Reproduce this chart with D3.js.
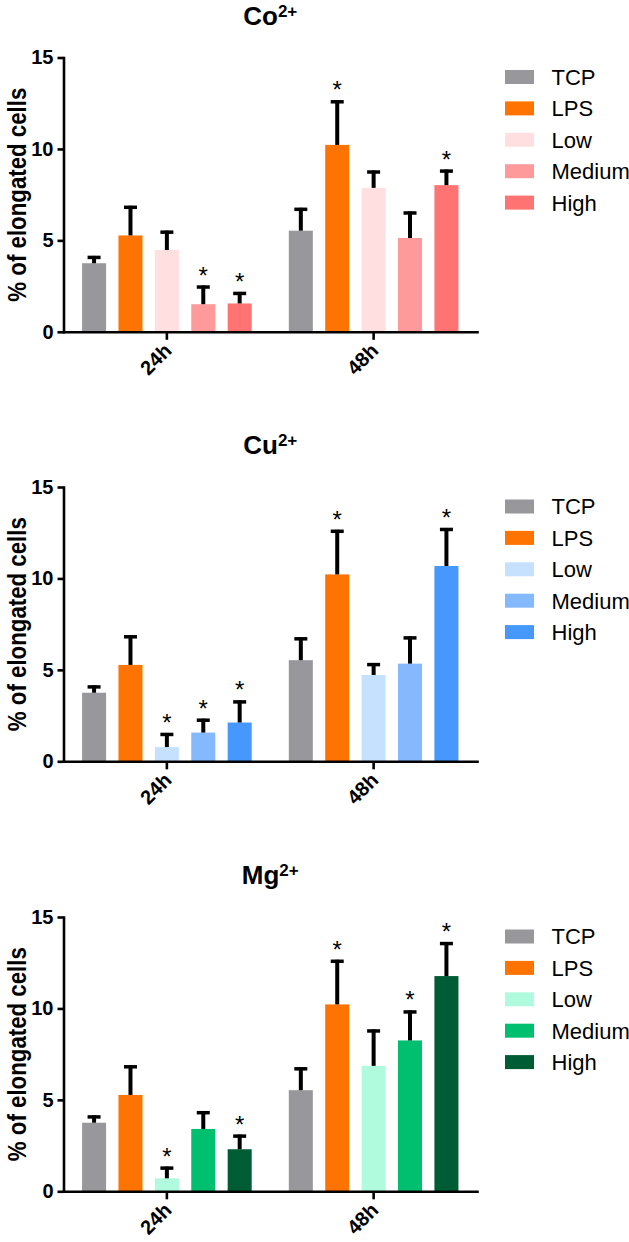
<!DOCTYPE html>
<html>
<head>
<meta charset="utf-8">
<script src="https://cdn.jsdelivr.net/npm/d3@7"></script>
<style>
  body { margin: 0; background: #fff; }
  text { font-family: "Liberation Sans", Arial, Helvetica, sans-serif; }
</style>
</head>
<body>
<script>
// data
var categories = ["24h", "48h"];
var series = ["TCP", "LPS", "Low", "Medium", "High"];
var yTicks = [0, 5, 10, 15];
var ions = ["Co", "Cu", "Mg"];

var coMean = [[3.75, 5.27, 4.47, 1.51, 1.55], [5.53, 10.22, 7.87, 5.13, 8.02]];
var coErr  = [[0.40, 1.62, 1.06, 1.02, 0.63], [1.25, 2.44, 0.95, 1.45, 0.85]];
var coStar = [[0, 0, 0, 1, 1], [0, 1, 0, 0, 1]];

var cuMean = [[3.75, 5.27, 0.78, 1.57, 2.12], [5.53, 10.22, 4.72, 5.34, 10.68]];
var cuErr  = [[0.40, 1.62, 0.77, 0.76, 1.21], [1.25, 2.44, 0.65, 1.49, 2.08]];
var cuStar = [[0, 0, 1, 1, 1], [0, 1, 0, 0, 1]];

var mgMean = [[3.75, 5.27, 0.71, 3.41, 2.30], [5.53, 10.22, 6.86, 8.25, 11.77]];
var mgErr  = [[0.40, 1.62, 0.64, 0.97, 0.80], [1.25, 2.44, 1.99, 1.64, 1.86]];
var mgStar = [[0, 0, 1, 0, 1], [0, 1, 0, 1, 1]];

// colours per panel
var coColors = ["#98979c", "#ff7300", "#ffdfe0", "#ff9a9a", "#ff7373"];
var cuColors = ["#98979c", "#ff7300", "#c6e1fe", "#84b9fd", "#4798fc"];
var mgColors = ["#98979c", "#ff7300", "#b0fbdd", "#00bf6f", "#005c34"];

var panels = [
  { ion: ions[0], mean: coMean, err: coErr, star: coStar, colors: coColors },
  { ion: ions[1], mean: cuMean, err: cuErr, star: cuStar, colors: cuColors },
  { ion: ions[2], mean: mgMean, err: mgErr, star: mgStar, colors: mgColors }
];

var svgWidth = 629, svgHeight = 1242;
var panelTop = [57.5, 487, 917];
var plotH = 274.3;
var left = 63.5, right = 477;

var svg = d3.select("body").append("svg")
  .attr("width", svgWidth)
  .attr("height", svgHeight);

panels.forEach(function(p, k) {
  var top = panelTop[k];
  var bottom = top + plotH;
  var g = svg.append("g");

  var y = d3.scaleLinear().domain([0, 15]).range([bottom, top]);
  var x0 = d3.scaleBand().domain(categories).range([left, right]);
  var x1 = d3.scaleBand().domain(series)
    .range([0, x0.bandwidth()])
    .paddingInner(0.34)
    .paddingOuter(0.51);
  var color = d3.scaleOrdinal().domain(series).range(p.colors);

  // title with superscript
  var title = g.append("text")
    .attr("x", (left + right) / 2)
    .attr("y", top - 33)
    .attr("text-anchor", "middle")
    .style("font-weight", "bold");
  title.append("tspan").style("font-size", "26px").text(p.ion);
  title.append("tspan").style("font-size", "17px").attr("dy", -8).text("2+");

  // bars
  var rows = [];
  categories.forEach(function(c, i) {
    series.forEach(function(s, j) {
      rows.push({ cat: c, s: s, v: p.mean[i][j], e: p.err[i][j], star: p.star[i][j] });
    });
  });

  g.selectAll("rect.bar")
    .data(rows)
    .enter()
    .append("rect")
    .attr("class", "bar")
    .attr("x", d => x0(d.cat) + x1(d.s))
    .attr("y", d => y(d.v))
    .attr("width", x1.bandwidth())
    .attr("height", d => y(0) - y(d.v))
    .attr("fill", d => color(d.s));

  // error bars (upper only)
  var cx = d => x0(d.cat) + x1(d.s) + x1.bandwidth() / 2;
  g.selectAll("line.err")
    .data(rows)
    .enter()
    .append("line")
    .attr("x1", cx).attr("x2", cx)
    .attr("y1", d => y(d.v))
    .attr("y2", d => y(d.v + d.e))
    .attr("stroke", "#000")
    .attr("stroke-width", 4);
  g.selectAll("line.cap")
    .data(rows)
    .enter()
    .append("line")
    .attr("x1", d => cx(d) - 6.5).attr("x2", d => cx(d) + 6.5)
    .attr("y1", d => y(d.v + d.e) + 1.5)
    .attr("y2", d => y(d.v + d.e) + 1.5)
    .attr("stroke", "#000")
    .attr("stroke-width", 3.5);

  // significance stars
  g.selectAll("text.star")
    .data(rows.filter(d => d.star))
    .enter()
    .append("text")
    .attr("x", cx)
    .attr("y", d => y(d.v + d.e) - 2)
    .attr("text-anchor", "middle")
    .style("font-size", "24px")
    .text("*");

  // axes
  var yAxis = g.append("g")
    .attr("transform", `translate(${left}, 0)`)
    .call(d3.axisLeft(y).tickValues(yTicks).tickSize(6).tickSizeOuter(0).tickPadding(4));
  var xAxis = g.append("g")
    .attr("transform", `translate(0, ${bottom})`)
    .call(d3.axisBottom(x0).tickSize(8).tickSizeOuter(0));

  [yAxis, xAxis].forEach(function(a) {
    a.select(".domain").attr("stroke-width", 2.6).attr("stroke-linecap", "square");
    a.selectAll(".tick line").attr("stroke-width", 2.6);
    a.selectAll(".tick text")
      .style("font-size", "20px")
      .style("font-weight", "bold")
      .attr("fill", "#000");
  });

  xAxis.selectAll(".tick text")
    .attr("x", 0).attr("y", 0).attr("dy", 0)
    .attr("transform", "translate(6, 20) rotate(-45)")
    .style("text-anchor", "end");

  // y label
  g.append("text")
    .attr("transform", `translate(26, ${(top + bottom) / 2}) rotate(-90)`)
    .attr("text-anchor", "middle")
    .attr("textLength", 214)
    .attr("lengthAdjust", "spacingAndGlyphs")
    .style("font-size", "25px")
    .style("font-weight", "bold")
    .text("% of elongated cells");

  // legend
  var legend = g.selectAll("g.legend")
    .data(series)
    .enter()
    .append("g")
    .attr("transform", (d, i) => `translate(505, ${top + 19.5 + i * 31.4})`);
  legend.append("rect")
    .attr("x", 0).attr("y", -7)
    .attr("width", 29).attr("height", 14)
    .attr("fill", d => color(d));
  legend.append("text")
    .attr("x", 46.5)
    .attr("y", 0)
    .attr("dy", "0.36em")
    .style("font-size", "22px")
    .text(d => d);
});
</script>
</body>
</html>
